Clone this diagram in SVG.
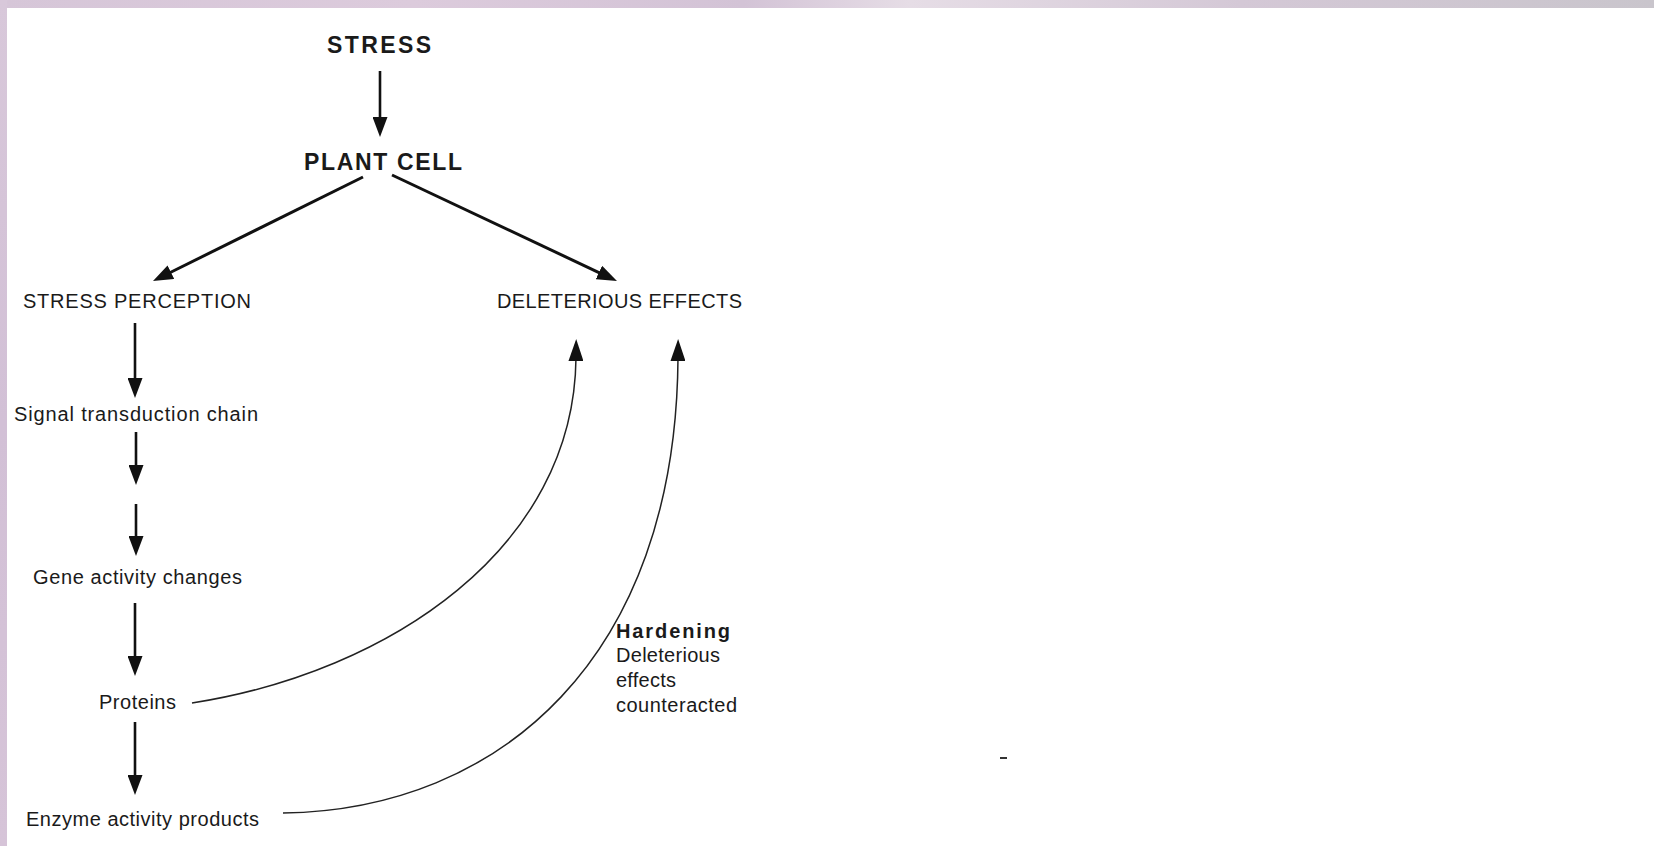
<svg xmlns="http://www.w3.org/2000/svg" width="1654" height="846" viewBox="0 0 1654 846">
  <defs>
    <linearGradient id="topband" x1="0" y1="0" x2="1" y2="0">
      <stop offset="0" stop-color="#d6c6d8"/>
      <stop offset="0.25" stop-color="#dccbdc"/>
      <stop offset="0.45" stop-color="#d3c3d6"/>
      <stop offset="0.55" stop-color="#e6dde6"/>
      <stop offset="0.75" stop-color="#d4c8d6"/>
      <stop offset="1" stop-color="#c9c5cc"/>
    </linearGradient>
    <linearGradient id="leftband" x1="0" y1="0" x2="0" y2="1">
      <stop offset="0" stop-color="#d8c8da"/>
      <stop offset="0.5" stop-color="#d2c0d6"/>
      <stop offset="1" stop-color="#d6c4d8"/>
    </linearGradient>
    <marker id="ah" markerUnits="userSpaceOnUse" markerWidth="20" markerHeight="15" viewBox="0 0 20 15" refX="3" refY="7.5" orient="auto">
      <path d="M0,0 L20,7.5 L0,15 z" fill="#111"/>
    </marker>
    <marker id="ahs" markerUnits="userSpaceOnUse" markerWidth="22" markerHeight="15" viewBox="0 0 22 15" refX="3" refY="7.5" orient="auto">
      <path d="M0,0 L22,7.5 L0,15 z" fill="#111"/>
    </marker>
  </defs>
  <style>
    text { font-family: "Liberation Sans", Arial, Helvetica, sans-serif; fill: #1a1a1a; }
    .big { font-size: 23px; font-weight: bold; }
    .lbl { font-size: 20px; }
    .bold { font-weight: bold; }
    .thick { stroke: #111; stroke-width: 2.6; fill: none; marker-end: url(#ah); }
    .diag { stroke: #111; stroke-width: 3; fill: none; marker-end: url(#ah); }
    .curve { stroke: #222; stroke-width: 1.5; fill: none; marker-end: url(#ahs); }
  </style>

  <rect x="0" y="0" width="1654" height="846" fill="#ffffff"/>
  <rect x="0" y="0" width="1654" height="8" fill="url(#topband)"/>
  <rect x="0" y="0" width="7" height="846" fill="url(#leftband)"/>

  <g id="connectors">
    <line class="thick" x1="380" y1="71" x2="380" y2="120"/>
    <line class="diag" x1="363" y1="177" x2="168.2" y2="273.5"/>
    <line class="diag" x1="392" y1="175" x2="601.6" y2="273.8"/>
    <line class="thick" x1="135" y1="323" x2="135" y2="381"/>
    <line class="thick" x1="136" y1="432" x2="136" y2="468"/>
    <line class="thick" x1="136" y1="504" x2="136" y2="539"/>
    <line class="thick" x1="135" y1="603" x2="135" y2="659"/>
    <line class="thick" x1="135" y1="722" x2="135" y2="778"/>
    <path class="curve" d="M192,703 C390,672 574,548 576,358"/>
    <path class="curve" d="M283,813 C500,810 676,658 678,358"/>
  </g>

  <g id="stress"><text class="big" x="327" y="53" textLength="104">STRESS</text></g>
  <g id="plant-cell"><text class="big" x="304" y="170" textLength="158">PLANT CELL</text></g>
  <g id="stress-perception"><text class="lbl" x="23" y="308" textLength="228">STRESS PERCEPTION</text></g>
  <g id="deleterious-effects"><text class="lbl" x="497" y="308" textLength="245">DELETERIOUS EFFECTS</text></g>
  <g id="signal"><text class="lbl" x="14" y="421" textLength="244">Signal transduction chain</text></g>
  <g id="gene"><text class="lbl" x="33" y="584" textLength="209">Gene activity changes</text></g>
  <g id="proteins"><text class="lbl" x="99" y="709" textLength="77">Proteins</text></g>
  <g id="enzyme"><text class="lbl" x="26" y="826" textLength="233">Enzyme activity products</text></g>
  <g id="hardening">
    <text class="lbl bold" x="616" y="638" textLength="114">Hardening</text>
    <text class="lbl" x="616" y="662" textLength="104">Deleterious</text>
    <text class="lbl" x="616" y="687" textLength="60">effects</text>
    <text class="lbl" x="616" y="712" textLength="121">counteracted</text>
  </g>
  <rect x="1000" y="757" width="7" height="2" fill="#333"/>
</svg>
